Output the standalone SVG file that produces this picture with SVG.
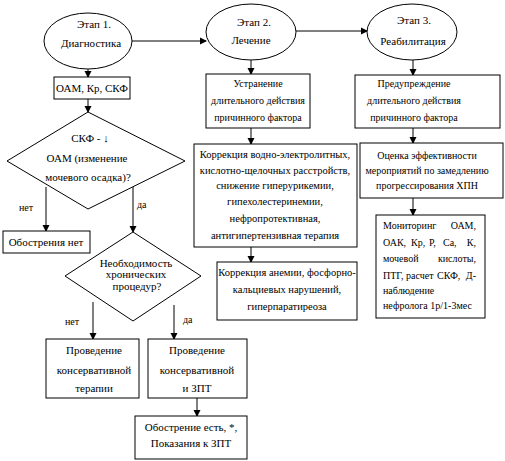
<svg xmlns="http://www.w3.org/2000/svg" width="505" height="461" viewBox="0 0 505 461" font-family="'Liberation Serif', 'DejaVu Serif', serif">
<defs>
<marker id="ah" markerWidth="7" markerHeight="8" refX="6" refY="4" orient="auto" markerUnits="userSpaceOnUse">
<path d="M0,0.5 L7,4 L0,7.5 Z" fill="#000"/>
</marker>
<style>
.s{fill:#fff;stroke:#000;stroke-width:1}
.c{fill:none;stroke:#000;stroke-width:1;marker-end:url(#ah)}
text{fill:#000;font-family:'Liberation Serif','DejaVu Serif',serif}
.b{font-size:11px;text-anchor:middle}
.m{font-size:10px;text-anchor:middle}
.w{font-size:10.5px;text-anchor:middle}
.l{font-size:10px}
</style>
</defs>
<rect width="505" height="461" fill="#fff"/>
<g id="connectors">
<path class="c" d="M132,41 H206"/>
<path class="c" d="M296,31 H367"/>
<path class="c" d="M88,69 V77"/>
<path class="c" d="M88,99 V112"/>
<path class="c" d="M46,187 V231"/>
<path class="c" d="M133,185 V232"/>
<path class="c" d="M251,60 V74"/>
<path class="c" d="M251,128 V144"/>
<path class="c" d="M251,247 V262"/>
<path class="c" d="M413,60 V75"/>
<path class="c" d="M413,128 V143"/>
<path class="c" d="M413,198 V215"/>
<path class="c" d="M93,302 V339"/>
<path class="c" d="M174,305 V339"/>
<path class="c" d="M197,398 V416"/>
</g>
<g id="stage1">
<ellipse class="s" cx="88" cy="41" rx="44" ry="28"/>
<text class="b" x="94" y="28">Этап 1.</text>
<text class="b" x="91" y="47">Диагностика</text>
</g>
<g id="stage2">
<ellipse class="s" cx="251" cy="32" rx="45" ry="28"/>
<text class="b" x="254" y="26">Этап 2.</text>
<text class="b" x="251" y="44">Лечение</text>
</g>
<g id="stage3">
<ellipse class="s" cx="412" cy="32" rx="45" ry="28"/>
<text class="b" x="414" y="24">Этап 3.</text>
<text class="b" x="413" y="45">Реабилитация</text>
</g>
<g id="oam">
<rect class="s" x="54" y="77" width="76" height="22"/>
<text class="b" x="92" y="92">ОАМ, Кр, СКФ</text>
</g>
<g id="decision1">
<polygon class="s" points="88,112 185,161 88,209 7,161"/>
<text class="b" x="90" y="142">СКФ - ↓</text>
<text class="b" x="87" y="162">ОАМ (изменение</text>
<text class="b" x="88" y="181">мочевого осадка)?</text>
<text class="l" x="19" y="211">нет</text>
<text class="l" x="137" y="208">да</text>
</g>
<g id="noexacerbation">
<rect class="s" x="3" y="231" width="87" height="22"/>
<text class="b" x="46" y="246">Обострения нет</text>
</g>
<g id="decision2">
<polygon class="s" points="133,232 201,276 133,321 65,276"/>
<text class="b" x="136" y="267">Необходимость</text>
<text class="b" x="136" y="278">хронических</text>
<text class="b" x="137" y="290">процедур?</text>
<text class="l" x="65" y="325">нет</text>
<text class="l" x="183" y="323">да</text>
</g>
<g id="conservative">
<rect class="s" x="46" y="339" width="93" height="59"/>
<text class="b" x="94" y="354">Проведение</text>
<text class="b" x="94" y="374">консервативной</text>
<text class="b" x="94" y="392">терапии</text>
</g>
<g id="conservativeRRT">
<rect class="s" x="148" y="339" width="99" height="59"/>
<text class="b" x="197" y="354">Проведение</text>
<text class="b" x="197" y="374">консервативной</text>
<text class="b" x="197" y="392">и ЗПТ</text>
</g>
<g id="exacerbation">
<rect class="s" x="135" y="416" width="112" height="43"/>
<text class="b" x="191" y="431">Обострение есть, *,</text>
<text class="b" x="191" y="447">Показания к ЗПТ</text>
</g>
<g id="elimination">
<rect class="s" x="206" y="74" width="104" height="54"/>
<text class="m" x="258" y="87">Устранение</text>
<text class="m" x="258" y="104">длительного действия</text>
<text class="m" x="258" y="121">причинного фактора</text>
</g>
<g id="correction1">
<rect class="s" x="194" y="144" width="163" height="103"/>
<text class="w" x="275" y="158">Коррекция водно-электролитных,</text>
<text class="w" x="275" y="174">кислотно-щелочных расстройств,</text>
<text class="w" x="275" y="189">снижение гиперурикемии,</text>
<text class="w" x="275" y="205">гипехолестеринемии,</text>
<text class="w" x="275" y="222">нефропротективная,</text>
<text class="w" x="275" y="239">антигипертензивная терапия</text>
</g>
<g id="correction2">
<rect class="s" x="217" y="262" width="140" height="58"/>
<text class="w" x="287" y="276">Коррекция анемии, фосфорно-</text>
<text class="w" x="287" y="293">кальциевых нарушений,</text>
<text class="w" x="287" y="310">гиперпаратиреоза</text>
</g>
<g id="prevention">
<rect class="s" x="355" y="75" width="145" height="53"/>
<text class="m" x="414" y="87">Предупреждение</text>
<text class="m" x="414" y="104">длительного действия</text>
<text class="m" x="414" y="121">причинного фактора</text>
</g>
<g id="evaluation">
<rect class="s" x="360" y="143" width="143" height="55"/>
<text class="m" x="427" y="159">Оценка эффективности</text>
<text class="m" x="427" y="174">мероприятий по замедлению</text>
<text class="m" x="427" y="189">прогрессирования ХПН</text>
</g>
<g id="monitoring">
<rect class="s" x="376" y="215" width="109" height="103"/>
<text class="l" x="383" y="229">Мониторинг</text>
<text class="l" x="476" y="229" text-anchor="end">ОАМ,</text>
<text class="l" x="383" y="246">ОАК,</text>
<text class="l" x="411" y="246">Кр,</text>
<text class="l" x="429" y="246">Р,</text>
<text class="l" x="443" y="246">Са,</text>
<text class="l" x="476" y="246" text-anchor="end">К,</text>
<text class="l" x="383" y="262">мочевой</text>
<text class="l" x="476" y="262" text-anchor="end">кислоты,</text>
<text class="l" x="383" y="279">ПТГ,</text>
<text class="l" x="406" y="279">расчет</text>
<text class="l" x="437" y="279">СКФ,</text>
<text class="l" x="476" y="279" text-anchor="end">Д-</text>
<text class="l" x="383" y="294">наблюдение</text>
<text class="l" x="383" y="309">нефролога  1р/1-3мес</text>
</g>
</svg>
